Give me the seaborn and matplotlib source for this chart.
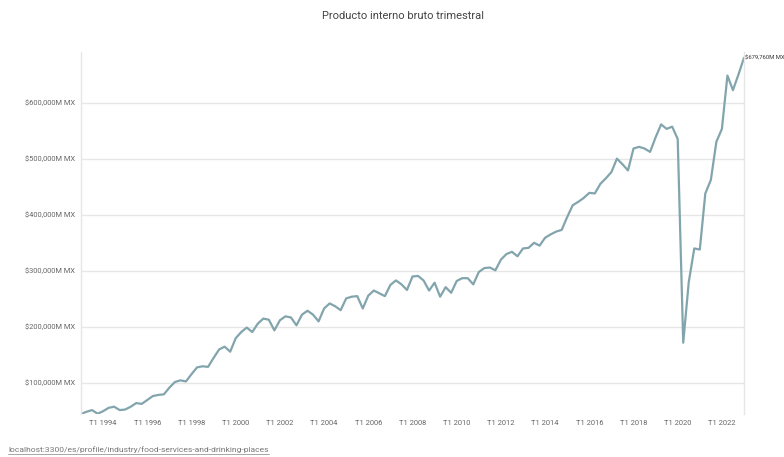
import matplotlib
matplotlib.use("Agg")
import matplotlib.pyplot as plt
import seaborn as sns
import pandas as pd
from matplotlib.ticker import FuncFormatter, FixedLocator

# ---- data (millions of MXN, quarterly T1 1993 .. T1 2023) ----
years = list(range(1993, 2024))
quarters = ["T1", "T2", "T3", "T4"]
values = [
    45000, 49000, 52000, 45500,      # 1993
    50000, 56000, 58000, 52000,      # 1994
    53000, 58000, 64500, 63000,      # 1995
    70000, 77000, 79000, 80000,      # 1996
    92000, 102000, 105000, 103000,   # 1997
    116000, 128000, 130000, 129000,  # 1998
    145000, 160000, 165000, 156000,  # 1999
    180000, 191000, 199000, 191000,  # 2000
    206000, 215000, 213000, 194000,  # 2001
    212000, 219000, 217000, 203000,  # 2002
    222000, 229000, 222000, 210000,  # 2003
    233000, 242000, 237000, 230000,  # 2004
    251000, 254000, 255000, 233000,  # 2005
    256000, 265000, 260000, 255000,  # 2006
    275000, 283000, 276000, 266000,  # 2007
    290000, 291000, 283000, 265000,  # 2008
    279000, 254000, 271000, 261000,  # 2009
    282000, 287000, 287000, 276000,  # 2010
    298000, 305000, 306000, 301000,  # 2011
    320000, 330000, 334000, 326000,  # 2012
    340000, 341000, 350000, 345000,  # 2013
    359000, 365000, 370000, 373000,  # 2014
    396000, 417000, 423000, 430000,  # 2015
    439000, 438000, 455000, 465000,  # 2016
    476000, 500000, 490000, 479000,  # 2017
    518000, 521000, 518000, 512000,  # 2018
    538000, 561000, 553000, 557000,  # 2019
    535000, 172000, 280000, 340000,  # 2020
    338000, 438000, 462000, 530000,  # 2021
    553000, 648000, 622000, 650000,  # 2022
    679760,                          # 2023 T1
]
period_labels = [f"{q} {y}" for y in years for q in quarters][:len(values)]
yticks = [100000, 200000, 300000, 400000, 500000, 600000]
title = "Producto interno bruto trimestral"
footer = "localhost:3300/es/profile/industry/food-services-and-drinking-places"

df = pd.DataFrame({"idx": range(len(values)), "periodo": period_labels, "valor": values})

sns.set_theme(style="white")
plt.rcParams["font.family"] = ["Roboto", "DejaVu Sans"]

fig = plt.figure(figsize=(7.84, 4.57), dpi=100)
ax = fig.add_axes([81 / 784, 1 - 414 / 457, (744 - 81) / 784, (414 - 52) / 457])

sns.lineplot(data=df, x="idx", y="valor", ax=ax, color="#82a5ad", linewidth=1.6)

ax.set_xlim(0, len(values) - 1)
ax.set_ylim(45000, 690000)

ax.yaxis.set_major_locator(FixedLocator(yticks))
ax.yaxis.set_major_formatter(FuncFormatter(lambda v, p: f"${int(v):,}M MX"))
tick_idx = [i for i, lab in enumerate(period_labels) if lab.startswith("T1") and int(lab[3:]) % 2 == 0]
ax.set_xticks(tick_idx)
ax.set_xticklabels([period_labels[i] for i in tick_idx])

ax.grid(axis="y", color="#e6e6e6", linewidth=1)
ax.grid(axis="x", visible=False)
for s in ["top", "bottom"]:
    ax.spines[s].set_visible(False)
for s in ["left", "right"]:
    ax.spines[s].set_visible(True)
    ax.spines[s].set_color("#e6e6e6")
    ax.spines[s].set_linewidth(1)

ax.tick_params(axis="both", length=0, labelsize=5.4, colors="#666666")
ax.tick_params(axis="y", pad=4)
ax.tick_params(axis="x", pad=4)
ax.set_xlabel("")
ax.set_ylabel("")

# last value label
ax.annotate(f"${values[-1]:,}M MX", xy=(len(values) - 1, values[-1]), xytext=(1.0, 0),
            textcoords="offset points", fontsize=4.2, color="#333333", va="center",
            ha="left", annotation_clip=False)

fig.text(403 / 784, 1 - 16 / 457, title, ha="center", va="center", fontsize=8, color="#444444")
t = fig.text(8 / 784, 1 - 450 / 457, footer, ha="left", va="center", fontsize=6.1, color="#777777")
# underline footer
fig.canvas.draw()
bb = t.get_window_extent()
fig.add_artist(plt.Line2D([bb.x0 / 784, bb.x1 / 784], [(bb.y0 - 0.5) / 457] * 2,
                          transform=fig.transFigure, color="#999999", linewidth=0.6))

fig.savefig("out.png", dpi=100)
